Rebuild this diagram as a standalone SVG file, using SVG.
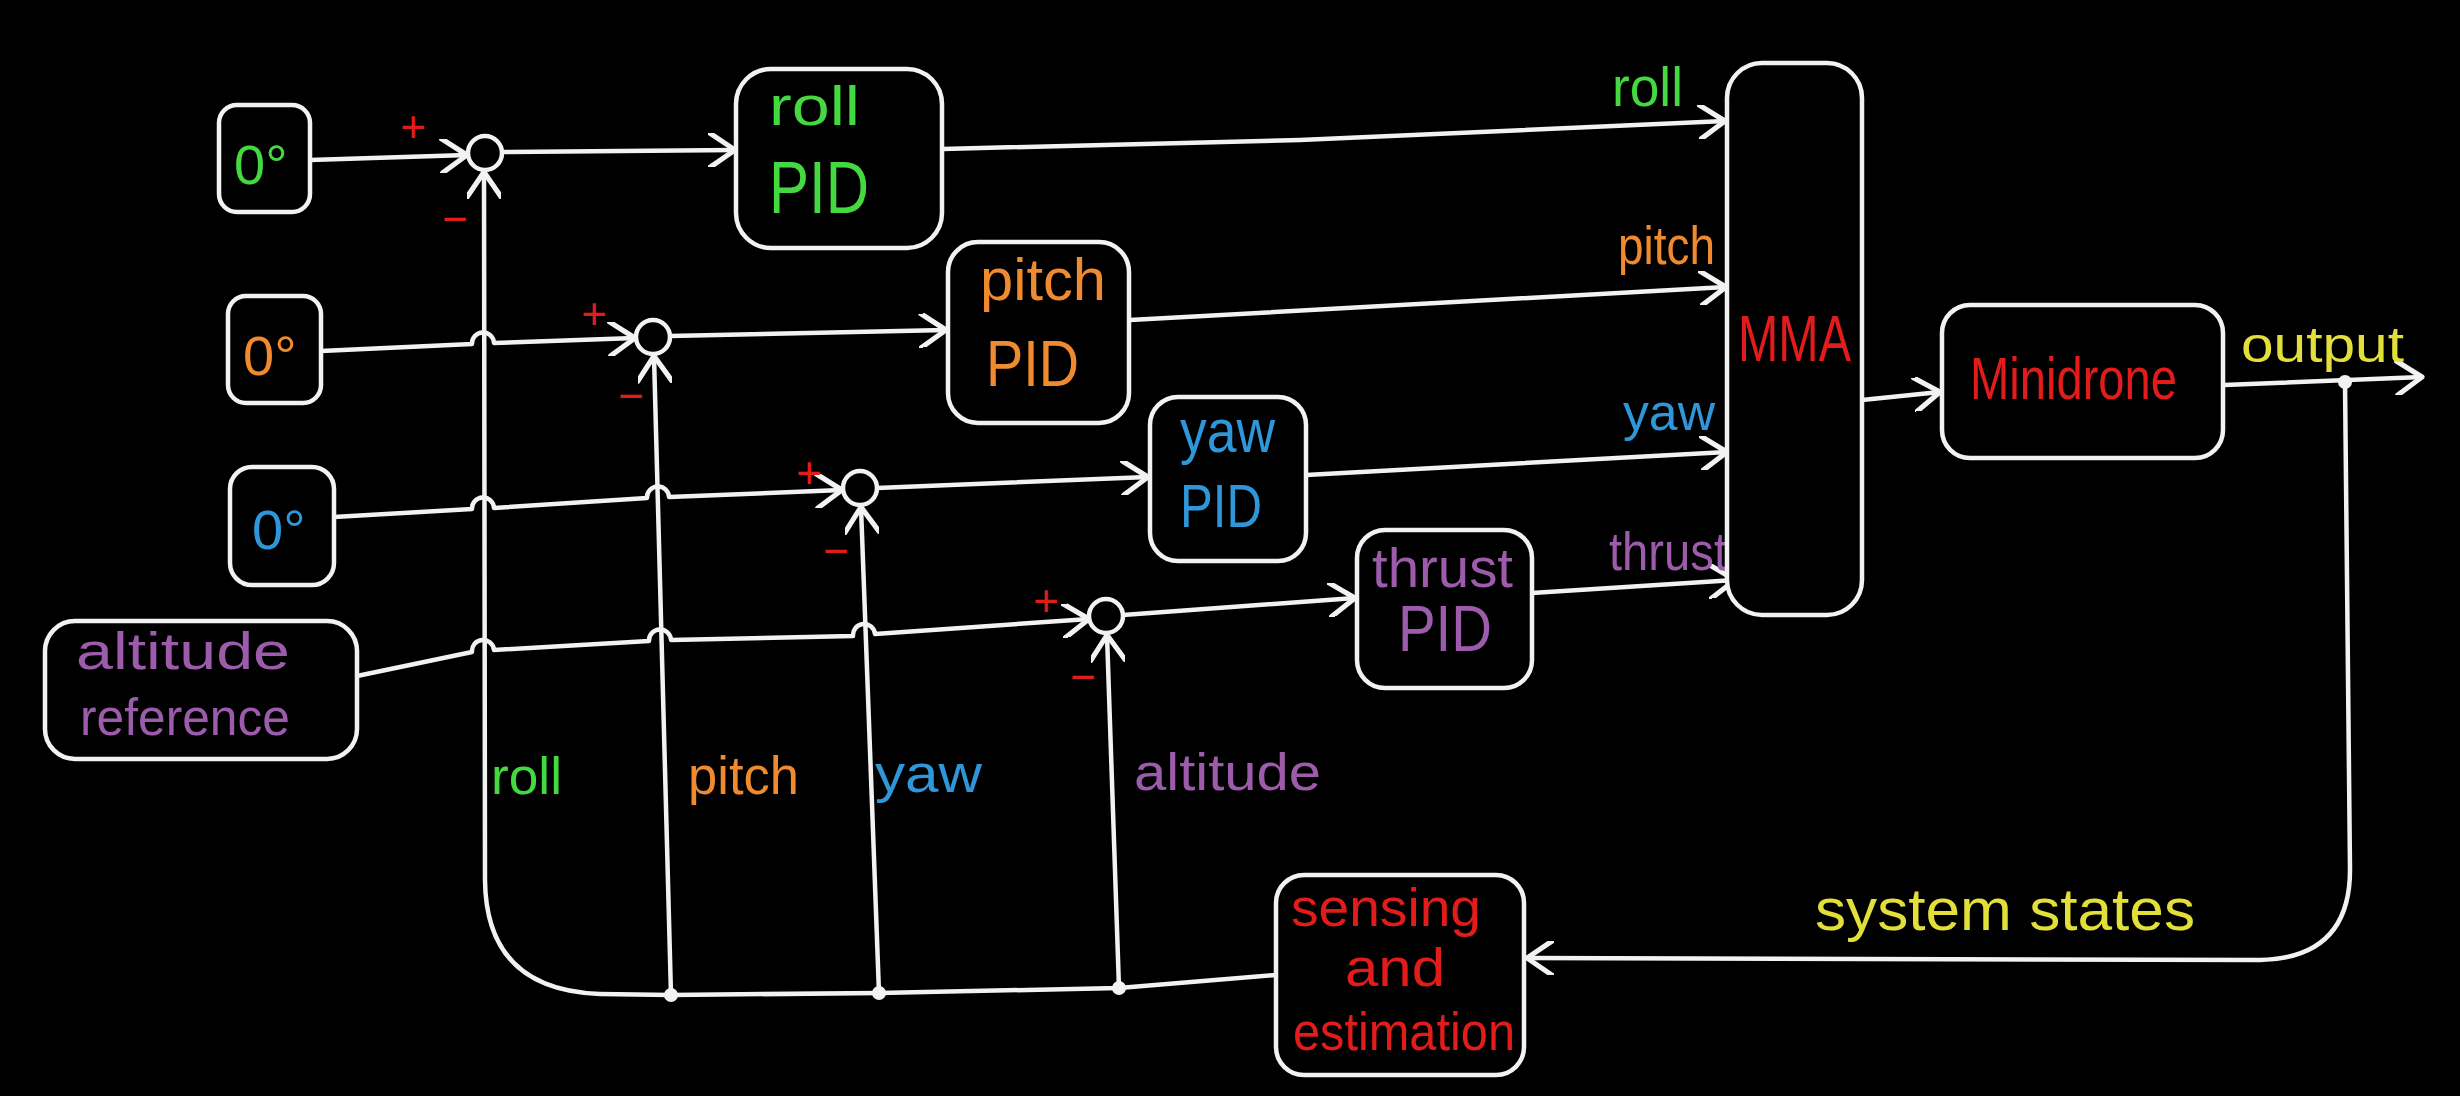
<svg xmlns="http://www.w3.org/2000/svg" width="2460" height="1096" viewBox="0 0 2460 1096">
<defs>
<style>
.bx{fill:#000;stroke:#f2f2f2;stroke-width:4.5}
.ln{fill:none;stroke:#f2f2f2;stroke-width:4.5;stroke-linecap:round;stroke-linejoin:round}
.sum{fill:#000;stroke:#f2f2f2;stroke-width:4.5}
.dot{fill:#f2f2f2}
text{font-family:"Liberation Sans","DejaVu Sans",sans-serif}
.g{fill:#45d941}.o{fill:#ef8a2f}.b{fill:#2f97d9}.p{fill:#9c5cab}.r{fill:#e21b1b}.y{fill:#e2df3a}
.sg{fill:#e21b1b;font-size:44px;text-anchor:middle}
</style>
<marker id="ar" markerUnits="userSpaceOnUse" markerWidth="34" markerHeight="34" viewBox="0 0 30 30" refX="24" refY="15" orient="auto">
<path d="M2,0 L24,15 L2,30" fill="none" stroke="#f2f2f2" stroke-width="4.5" stroke-linecap="round" stroke-linejoin="round"/>
</marker>
</defs>
<rect width="2460" height="1096" fill="#000"/>

<g id="connectors">
<path class="ln" d="M310,160 L467,155" marker-end="url(#ar)"/>
<path class="ln" d="M502,152 L735,150" marker-end="url(#ar)"/>
<path class="ln" d="M943,149 L1300,140 L1725,121" marker-end="url(#ar)"/>
<path class="ln" d="M321,351 L472,344 a11,11 0 0 1 22,-1 L635,338" marker-end="url(#ar)"/>
<path class="ln" d="M670,336 L946,330" marker-end="url(#ar)"/>
<path class="ln" d="M1130,320 L1726,287" marker-end="url(#ar)"/>
<path class="ln" d="M334,517 L472,509 a11,11 0 0 1 22,-1 L647,498 a11,11 0 0 1 22,-1 L842,490" marker-end="url(#ar)"/>
<path class="ln" d="M877,488 L1148,477" marker-end="url(#ar)"/>
<path class="ln" d="M1306,475 L1727,452" marker-end="url(#ar)"/>
<path class="ln" d="M357,676 L472,652 a11,11 0 0 1 22,-2 L649,641 a11,11 0 0 1 22,-1 L853,636 a11,11 0 0 1 22,-2 L1089,619" marker-end="url(#ar)"/>
<path class="ln" d="M1123,615 L1355,598" marker-end="url(#ar)"/>
<path class="ln" d="M1532,593 L1735,580" marker-end="url(#ar)"/>
<path class="ln" d="M1862,400 L1940,392" marker-end="url(#ar)"/>
<path class="ln" d="M2224,385 L2422,377" marker-end="url(#ar)"/>
<path class="ln" d="M2345,382 L2350,870 Q2350,958 2260,960 L1527,958" marker-end="url(#ar)"/>
<path class="ln" d="M1276,975 L1119,988 L879,993 L671,995 L600,994 Q486,990 485,880 L484,172" marker-end="url(#ar)"/>
<path class="ln" d="M671,995 L654,356" marker-end="url(#ar)"/>
<path class="ln" d="M879,993 L861,507" marker-end="url(#ar)"/>
<path class="ln" d="M1119,988 L1107,635" marker-end="url(#ar)"/>
<circle class="dot" cx="671" cy="995" r="7"/>
<circle class="dot" cx="879" cy="993" r="7"/>
<circle class="dot" cx="1119" cy="988" r="7"/>
<circle class="dot" cx="2345" cy="382" r="7"/>
<text class="g" x="1612" y="106" font-size="56" textLength="71" lengthAdjust="spacingAndGlyphs">roll</text>
<text class="o" x="1618" y="264" font-size="54" textLength="97" lengthAdjust="spacingAndGlyphs">pitch</text>
<text class="b" x="1623" y="430" font-size="52" textLength="92" lengthAdjust="spacingAndGlyphs">yaw</text>
<text class="p" x="1609" y="570" font-size="54" textLength="118" lengthAdjust="spacingAndGlyphs">thrust</text>
<text class="y" x="2241" y="362" font-size="50" textLength="163" lengthAdjust="spacingAndGlyphs">output</text>
<text class="y" x="1815" y="930" font-size="60" textLength="380" lengthAdjust="spacingAndGlyphs">system states</text>
<text class="g" x="491" y="794" font-size="52" textLength="71" lengthAdjust="spacingAndGlyphs">roll</text>
<text class="o" x="688" y="794" font-size="54" textLength="111" lengthAdjust="spacingAndGlyphs">pitch</text>
<text class="b" x="875" y="792" font-size="54" textLength="107" lengthAdjust="spacingAndGlyphs">yaw</text>
<text class="p" x="1134" y="790" font-size="52" textLength="187" lengthAdjust="spacingAndGlyphs">altitude</text>
</g>

<g id="ref-roll"><rect class="bx" x="219" y="105" width="91" height="107" rx="18"/><text class="g" x="234" y="184" font-size="56">0°</text></g>
<g id="ref-pitch"><rect class="bx" x="228" y="296" width="93" height="107" rx="18"/><text class="o" x="243" y="375" font-size="56">0°</text></g>
<g id="ref-yaw"><rect class="bx" x="230" y="467" width="104" height="118" rx="22"/><text class="b" x="252" y="549" font-size="56">0°</text></g>
<g id="ref-alt"><rect class="bx" x="45" y="621" width="312" height="138" rx="30"/><text class="p" x="76" y="669" font-size="52" textLength="214" lengthAdjust="spacingAndGlyphs">altitude</text><text class="p" x="80" y="735" font-size="52" textLength="210" lengthAdjust="spacingAndGlyphs">reference</text></g>

<g id="sum-roll"><circle class="sum" cx="485" cy="153" r="17"/><text class="sg" x="413" y="142">+</text><text class="sg" x="455" y="234">−</text></g>
<g id="sum-pitch"><circle class="sum" cx="653" cy="337" r="17"/><text class="sg" x="594" y="329">+</text><text class="sg" x="631" y="411">−</text></g>
<g id="sum-yaw"><circle class="sum" cx="860" cy="488" r="17"/><text class="sg" x="809" y="488">+</text><text class="sg" x="836" y="566">−</text></g>
<g id="sum-alt"><circle class="sum" cx="1106" cy="616" r="17"/><text class="sg" x="1046" y="616">+</text><text class="sg" x="1083" y="692">−</text></g>

<g id="roll-pid"><rect class="bx" x="736" y="69" width="206" height="179" rx="35"/><text class="g" x="769" y="125" font-size="56" textLength="91" lengthAdjust="spacingAndGlyphs">roll</text><text class="g" x="769" y="213" font-size="74" textLength="100" lengthAdjust="spacingAndGlyphs">PID</text></g>
<g id="pitch-pid"><rect class="bx" x="948" y="242" width="181" height="181" rx="30"/><text class="o" x="980" y="300" font-size="60" textLength="126" lengthAdjust="spacingAndGlyphs">pitch</text><text class="o" x="986" y="386" font-size="64" textLength="93" lengthAdjust="spacingAndGlyphs">PID</text></g>
<g id="yaw-pid"><rect class="bx" x="1150" y="397" width="156" height="164" rx="28"/><text class="b" x="1180" y="452" font-size="62" textLength="95" lengthAdjust="spacingAndGlyphs">yaw</text><text class="b" x="1180" y="527" font-size="62" textLength="82" lengthAdjust="spacingAndGlyphs">PID</text></g>
<g id="thrust-pid"><rect class="bx" x="1357" y="530" width="175" height="158" rx="28"/><text class="p" x="1372" y="587" font-size="56" textLength="141" lengthAdjust="spacingAndGlyphs">thrust</text><text class="p" x="1398" y="651" font-size="64" textLength="94" lengthAdjust="spacingAndGlyphs">PID</text></g>
<g id="mma"><rect class="bx" x="1727" y="63" width="135" height="552" rx="35"/><text class="r" x="1738" y="361" font-size="64" textLength="113" lengthAdjust="spacingAndGlyphs">MMA</text></g>
<g id="minidrone"><rect class="bx" x="1942" y="305" width="281" height="153" rx="28"/><text class="r" x="1970" y="399" font-size="60" textLength="207" lengthAdjust="spacingAndGlyphs">Minidrone</text></g>
<g id="sensing"><rect class="bx" x="1276" y="875" width="248" height="200" rx="28"/><text class="r" x="1291" y="926" font-size="54" textLength="190" lengthAdjust="spacingAndGlyphs">sensing</text><text class="r" x="1345" y="986" font-size="54" textLength="100" lengthAdjust="spacingAndGlyphs">and</text><text class="r" x="1293" y="1050" font-size="54" textLength="222" lengthAdjust="spacingAndGlyphs">estimation</text></g>
</svg>
